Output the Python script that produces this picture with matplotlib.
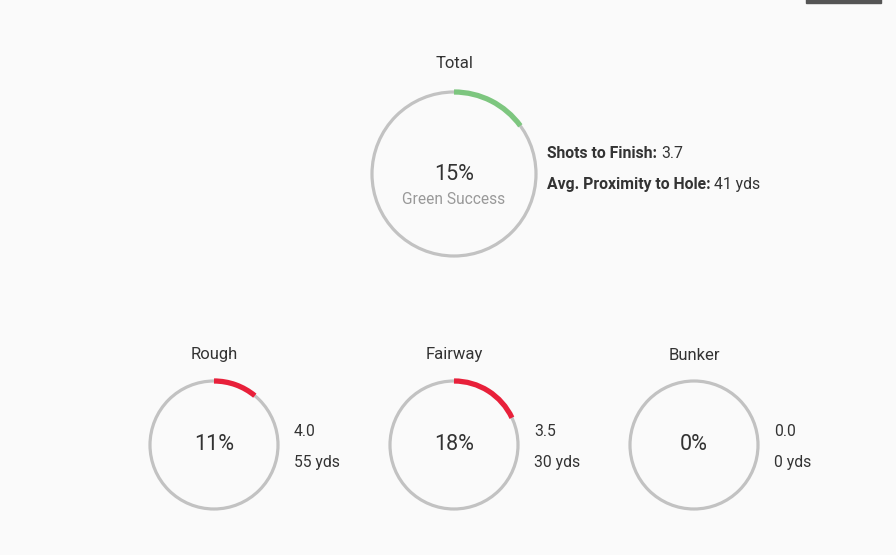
import matplotlib
matplotlib.use("Agg")
import matplotlib.pyplot as plt
from matplotlib.patches import Arc, Circle, Rectangle

plt.rcParams['font.family'] = ['Roboto', 'DejaVu Sans']

names = ["Total", "Rough", "Fairway", "Bunker"]
pcts = [15, 11, 18, 0]
shots = ["3.7", "4.0", "3.5", "0.0"]
prox = ["41 yds", "55 yds", "30 yds", "0 yds"]

fig = plt.figure(figsize=(8.96, 5.55), dpi=100, facecolor="#fafafa")
ax = fig.add_axes([0, 0, 1, 1])
ax.set_xlim(0, 896); ax.set_ylim(555, 0); ax.axis("off")
ax.set_facecolor("#fafafa")
ax.add_patch(Rectangle((806, -2), 75, 5, color="#555555"))

layout = [(454, 174, 82, "#7dc67f"), (214, 445, 64, "#e8203a"),
          (454, 445, 64, "#e8203a"), (694, 445, 64, "#e8203a")]
txt = "#333333"
fs = 11.3
for i, (cx, cy, r, col) in enumerate(layout):
    ax.add_patch(Circle((cx, cy), r, fill=False, ec="#c2c2c2", lw=2.3))
    if pcts[i] > 0:
        ax.add_patch(Arc((cx, cy), 2*r, 2*r, theta1=-90, theta2=-90 + 3.6*pcts[i],
                         color=col, lw=3.8))
    ax.text(cx, cy - r - 28 if i == 0 else cy - r - 26, names[i], ha="center", va="center",
            fontsize=12, color=txt)
    if i == 0:
        ax.text(cx, cy + 1, f"{pcts[i]}%", ha="center", va="center", fontsize=15.5, color=txt)
        ax.text(cx, cy + 26, "Green Success", ha="center", va="center", fontsize=11.2, color="#999999")
        x0 = cx + r + 11
        t = ax.text(x0, 153, "Shots to Finish: ", ha="left", va="center", fontsize=fs, fontweight="bold", color=txt)
        ax.annotate(shots[i], xycoords=t, xy=(1, 0.5), va="center", fontsize=fs, color=txt)
        t2 = ax.text(x0, 185, "Avg. Proximity to Hole: ", ha="left", va="center", fontsize=fs, fontweight="bold", color=txt)
        ax.annotate(prox[i], xycoords=t2, xy=(1, 0.5), va="center", fontsize=fs, color=txt)
    else:
        ax.text(cx, cy, f"{pcts[i]}%", ha="center", va="center", fontsize=15.5, color=txt)
        ax.text(cx + r + 16, 431, shots[i], ha="left", va="center", fontsize=fs, color=txt)
        ax.text(cx + r + 16, 463, prox[i], ha="left", va="center", fontsize=fs, color=txt)

fig.savefig("out.png", dpi=100, facecolor=fig.get_facecolor())
